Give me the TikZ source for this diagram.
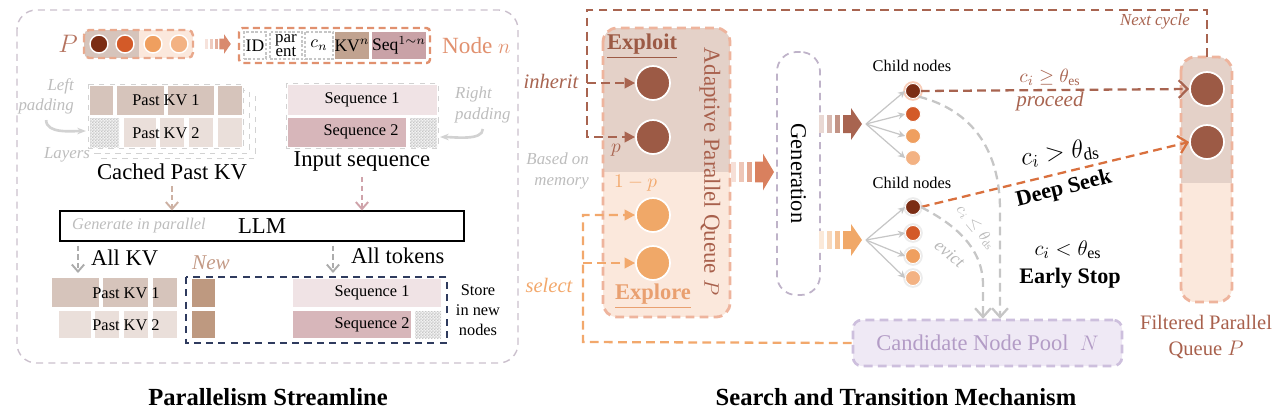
\documentclass[tikz,border=0pt]{standalone}
\usepackage{fontspec}
\setmainfont{Liberation Serif}
\usetikzlibrary{arrows.meta,patterns,calc}

\definecolor{kvdark}{HTML}{D6C4BB}
\definecolor{kvlight}{HTML}{EADFDA}
\definecolor{seqlight}{HTML}{F0E3E5}
\definecolor{seqdark}{HTML}{D7B6BA}
\definecolor{newkv}{HTML}{BE9980}
\definecolor{kvn}{HTML}{C1A390}
\definecolor{seqn}{HTML}{C9A2A7}
\definecolor{dotA}{HTML}{7B2D14}
\definecolor{dotB}{HTML}{D35A28}
\definecolor{dotC}{HTML}{EF9F5F}
\definecolor{dotD}{HTML}{F3B283}
\definecolor{qbrown}{HTML}{9C5A45}
\definecolor{qorange}{HTML}{F0A868}
\definecolor{exploitbg}{HTML}{E4D1C8}
\definecolor{explorebg}{HTML}{FBE8DC}
\definecolor{qborder}{HTML}{EEB49D}
\definecolor{qtxt}{HTML}{A8604C}
\definecolor{linebrown}{HTML}{A86450}
\definecolor{lineorange}{HTML}{F2A86C}
\definecolor{exploretxt}{HTML}{E9A070}
\definecolor{panelline}{HTML}{CBC0CD}
\definecolor{genline}{HTML}{BFB3C9}
\definecolor{poolfill}{HTML}{EFE9F5}
\definecolor{poolline}{HTML}{CDBFDD}
\definecolor{pooltext}{HTML}{B39CC6}
\definecolor{navy}{HTML}{2F3B5E}
\definecolor{nodeor}{HTML}{E1916F}
\definecolor{notegray}{HTML}{BDBDBD}
\definecolor{pbox}{HTML}{E9A98D}
\definecolor{ptxt}{HTML}{B5735F}
\definecolor{arrowor}{HTML}{D98A6E}
\definecolor{bigarrow}{HTML}{D9805E}
\definecolor{deepseek}{HTML}{D9703E}
\definecolor{tanline}{HTML}{CDB1A3}
\definecolor{pinkline}{HTML}{CFA3AA}
\definecolor{newtxt}{HTML}{C39A86}
\definecolor{glowor}{HTML}{F8CDB8}

\newlength{\pxu}\setlength{\pxu}{0.02cm}

\pgfdeclarepatternformonly{finechecker}{\pgfqpoint{0pt}{0pt}}{\pgfqpoint{1.6pt}{1.6pt}}{\pgfqpoint{1.6pt}{1.6pt}}{%
  \pgfpathrectangle{\pgfqpoint{0pt}{0pt}}{\pgfqpoint{0.8pt}{0.8pt}}%
  \pgfpathrectangle{\pgfqpoint{0.8pt}{0.8pt}}{\pgfqpoint{0.8pt}{0.8pt}}%
  \pgfusepath{fill}}

\tikzset{
  pics/stripearrow/.style={code={
    \fill[#1!25] (0,-9) rectangle (5,9);
    \fill[#1!45] (8,-9) rectangle (13,9);
    \fill[#1!70] (16,-9) rectangle (21,9);
    \fill[#1] (24,-9) -- (32,-9) -- (32,-16) -- (43,0) -- (32,16) -- (32,9) -- (24,9) -- cycle;
  }}
}

\begin{document}
\begin{tikzpicture}[x=0.02cm, y=-0.02cm,
  fs/.style 2 args={font=\fontsize{#1pt}{#2pt}\selectfont},
  note/.style={text=notegray, font=\itshape\fontsize{9.6pt}{11.5pt}\selectfont},
  kvtxt/.style={fs={9.3}{9.3}, inner sep=0pt},
  cell/.style={draw=gray!45, line width=0.6pt, dash pattern=on 1.5pt off 1pt, minimum height=27\pxu, inner sep=0pt, fs={10}{10}},
  checker/.style={fill=gray!10, postaction={pattern=finechecker, pattern color=gray!45}},
  pdot/.style={circle, draw=white, line width=0.8pt, minimum size=18\pxu, inner sep=0pt},
  qdot/.style={circle, draw=white, line width=1pt, minimum size=34\pxu, inner sep=0pt},
  cdot/.style={circle, draw=white, line width=0.5pt, minimum size=15\pxu, inner sep=0pt},
  halo/.style={preaction={draw=#1, line width=2.6pt}},
  fan/.style={draw=gray!45, line width=0.7pt, -{Stealth[length=4pt,width=4pt]}},
  tanarr/.style={draw=tanline, line width=1.1pt, dash pattern=on 3pt off 2pt, -{Straight Barb[length=4pt,width=7pt]}},
  grayarr/.style={draw=gray!65, line width=1.1pt, dash pattern=on 3pt off 2pt, -{Straight Barb[length=4pt,width=7pt]}},
  brownarr/.style={draw=linebrown, line width=1.3pt, dash pattern=on 5pt off 3pt, -{Triangle[length=6pt,width=6pt]}},
  orarr/.style={draw=lineorange, line width=1.3pt, dash pattern=on 5pt off 3pt, -{Triangle[length=6pt,width=6pt]}},
  barb/.style={-{Straight Barb[length=5pt,width=10pt]}},
  evarr/.style={draw=gray!45, line width=1.3pt, dash pattern=on 5pt off 3pt, -{Straight Barb[length=5pt,width=9pt]}},
]
\useasboundingbox (0,0) rectangle (1282,414);

% ---------------- Parallelism Streamline ----------------
\draw[panelline, line width=0.8pt, dash pattern=on 4pt off 3pt, rounded corners=11pt] (17,10) rectangle (518,363);

% parallel queue P and node n
\node[fs={14}{14}, text=ptxt] (plab) at (68,44) {$P$};
\begin{scope}
  \clip[rounded corners=3pt] (84,30) rectangle (193,58);
  \fill[kvdark] (84,30) rectangle (139,58);
  \fill[explorebg] (139,30) rectangle (193,58);
\end{scope}
\draw[pbox, line width=1.4pt, dash pattern=on 4pt off 2.5pt, rounded corners=3pt] (84,30) rectangle (193,58);
\foreach \x/\c [count=\i] in {99/dotA,125/dotB,153/dotC,179/dotD}
  \node[pdot, fill=\c] (p\i) at (\x,44) {};
\pic[scale=0.6] at (205,44) {stripearrow=arrowor};

\draw[nodeor, line width=1.4pt, dash pattern=on 4pt off 2.5pt, rounded corners=2pt] (239,28) rectangle (430,63);
\node[cell, minimum width=22\pxu] (idc) at (255,45.5) {ID};
\node[cell, minimum width=32\pxu, align=center, fs={9.6}{8.2}] (parc) at (286,45.5) {par\\ent};
\node[cell, minimum width=28\pxu] (cnc) at (319,45.5) {$c_n$};
\node[cell, draw=none, fill=kvn, minimum width=32\pxu] (kvc) at (352,45.5) {KV$^{n}$};
\node[cell, draw=none, fill=seqn, minimum width=54\pxu] (seqc) at (399,45.5) {Seq$^{1\sim n}$};
\node[fs={13.2}{13.2}, text=nodeor, anchor=west] (nlab) at (436,46) {Node $n$};

% cached past KV
\draw[gray!35, dashed, fill=white] (100,96) rectangle (255,158);
\draw[gray!35, dashed, fill=white] (94,90) rectangle (249,153);
\draw[gray!35, dashed, fill=white] (88,84) rectangle (243,148);
\foreach \a/\b in {90/113,117/164,168/214,218/242}
  \fill[kvdark] (\a,86) rectangle (\b,115);
\fill[checker] (90,118) rectangle (119,147);
\foreach \a/\b in {124/156,160/184,189/213,218/242}
  \fill[kvlight] (\a,118) rectangle (\b,147);
\node[kvtxt] (kv1) at (166,100.5) {Past KV 1};
\node[kvtxt] (kv2) at (166,133) {Past KV 2};
\node[note, anchor=east, align=right] (lpad) at (80,96) {Left\\padding};
\draw[gray!35, line width=1.5pt, -{Stealth[length=5pt]}] (lpad.south) .. controls +(0,14) and +(-14,0) .. (86,131);
\node[note] (layers) at (67,155) {Layers};
\node[fs={12.9}{12.9}] (cached) at (172,172) {Cached Past KV};

% input sequence
\draw[gray!35, dashed] (286,83) rectangle (438,148);
\fill[seqlight] (288,85) rectangle (437,115);
\fill[seqdark] (288,118) rectangle (406,147);
\fill[checker] (410,118) rectangle (437,147);
\node[kvtxt] (sq1) at (362,100) {Sequence 1};
\node[kvtxt] (sq2) at (361,132) {Sequence 2};
\node[note, anchor=west, align=left] (rpad) at (449,105) {Right\\padding};
\draw[gray!35, line width=1.5pt, -{Stealth[length=5pt]}] (rpad.south) .. controls +(0,12) and +(14,0) .. (440,137);
\node[fs={12.9}{12.9}] (inseq) at (362,161) {Input sequence};

% LLM
\node[draw, line width=0.6pt, minimum width=404\pxu, minimum height=30\pxu, inner sep=0pt, fs={12.9}{12.9}] (llm) at (262,226) {LLM};
\node[text=notegray, font=\itshape\fontsize{9.3pt}{9.3pt}\selectfont, anchor=west] (genpar) at (66,226) {Generate in parallel};
\draw[tanarr] (cached.south) -- (cached.south |- llm.north);
\draw[tanarr, draw=pinkline] (inseq.south) -- (inseq.south |- llm.north);

\coordinate (kvtop) at (78,273);
\coordinate (tktop) at (333,273);
\draw[grayarr] ($(kvtop |- llm.south)+(0,4)$) -- (kvtop);
\draw[grayarr] ($(tktop |- llm.south)+(0,4)$) -- (tktop);
\node[fs={12.8}{12.8}, anchor=west] (allkv) at (85,258) {All KV};
\node[fs={12.8}{12.8}, anchor=west] (alltok) at (345,256) {All tokens};

% new nodes
\foreach \a/\b in {52/99,103/148,153/177}
  \fill[kvdark] (\a,278) rectangle (\b,307);
\foreach \a/\b in {59/91,95/119,124/148,153/177}
  \fill[kvlight] (\a,311) rectangle (\b,338);
\node[kvtxt] (nkv1) at (126,293) {Past KV 1};
\node[kvtxt] (nkv2) at (126,325) {Past KV 2};
\node[fs={12}{12}, text=newtxt, anchor=west] (newlab) at (186,263) {\textit{New}};
\draw[navy, line width=1.1pt, dash pattern=on 4pt off 3pt] (186,277) rectangle (447,343);
\fill[newkv] (192,279) rectangle (215,307);
\fill[newkv] (192,311) rectangle (215,338);
\fill[seqlight] (293,279) rectangle (441,307);
\fill[seqdark] (293,311) rectangle (411,338);
\fill[checker] (415,311) rectangle (441,338);
\node[kvtxt] (nsq1) at (372,293) {Sequence 1};
\node[kvtxt] (nsq2) at (372,325) {Sequence 2};
\node[fs={9.3}{11.5}, align=center] (store) at (478,310) {Store\\in new\\nodes};

\node[fs={14}{14}] (title1) at (268,397) {\textbf{Parallelism Streamline}};

% ---------------- Search and Transition Mechanism ----------------
% adaptive parallel queue
\begin{scope}
  \clip[rounded corners=8pt] (603,28) rectangle (730,317);
  \fill[exploitbg] (603,28) rectangle (730,172);
  \fill[explorebg] (603,172) rectangle (730,317);
\end{scope}
\draw[qborder, line width=1.6pt, dash pattern=on 5pt off 3pt, rounded corners=8pt] (603,28) rectangle (730,317);
\node[fs={12.8}{12.8}, text=qbrown] (exploit) at (642,46) {\textbf{\underline{Exploit}}};
\node[qdot, fill=qbrown] (ex1) at (653,83) {};
\node[qdot, fill=qbrown] (ex2) at (653,137) {};
\node[qdot, fill=qorange] (er1) at (653,215) {};
\node[qdot, fill=qorange] (er2) at (653,263) {};
\node[fs={12.8}{12.8}, text=exploretxt] (explore) at (653,296) {\textbf{\underline{Explore}}};
\node[fs={11}{11}, text=linebrown] (plbl) at (616,150) {$p$};
\node[fs={11}{11}, text=lineorange, anchor=west] (qlbl) at (608,183) {$1-p$};
\node[fs={13.1}{13.1}, text=qtxt, rotate=-90] (apq) at (710,172) {Adaptive Parallel Queue $P$};
\node[note, align=right, anchor=east] (mem) at (595,171) {Based on\\memory};
\node[fs={11.7}{11.7}, text=linebrown, anchor=east] (inh) at (585,81) {\textit{inherit}};
\node[fs={11.7}{11.7}, text=lineorange, anchor=east] (sel) at (579,285) {\textit{select}};
\pic[yscale=1.15] at (731,172) {stripearrow=bigarrow};

% generation
\node[draw=genline, line width=1pt, dash pattern=on 4pt off 3pt, rounded corners=11pt, minimum width=43\pxu, minimum height=243\pxu, inner sep=0pt] (gen) at (798.5,173.5) {};
\node[fs={12.8}{12.8}, rotate=-90] (gentxt) at (gen.center) {Generation};
\pic at (819,124) {stripearrow=linebrown};
\pic at (819,240) {stripearrow=qorange};

% child nodes
\coordinate (hub1) at (866,124);
\coordinate (hub2) at (866,240);
\node[cdot, fill=dotA, halo=glowor] (c11) at (913,91) {};
\foreach \y/\c [count=\i from 2] in {114/dotB,136/dotC,158/dotD}
  \node[cdot, fill=\c] (c1\i) at (913,\y) {};
\foreach \y/\c [count=\i] in {207/dotA,233/dotB,256/dotC,278/dotD}
  \node[cdot, fill=\c, halo=gray!15] (c2\i) at (913,\y) {};
\foreach \i in {1,...,4} {
  \draw[fan] (hub1) -- (c1\i.west);
  \draw[fan] (hub2) -- (c2\i.west);
}
\node[fs={9.3}{9.3}] (ch1) at (912,66) {Child nodes};
\node[fs={9.3}{9.3}] (ch2) at (912,183) {Child nodes};

% filtered parallel queue
\begin{scope}
  \clip[rounded corners=8pt] (1181,57) rectangle (1232,302);
  \fill[exploitbg] (1181,57) rectangle (1232,183);
  \fill[explorebg] (1181,183) rectangle (1232,302);
\end{scope}
\draw[qborder, line width=1.6pt, dash pattern=on 5pt off 3pt, rounded corners=8pt] (1181,57) rectangle (1232,302);
\coordinate (fqtop) at (1207,57);
\node[qdot, fill=qbrown] (f1) at (1207,89) {};
\node[qdot, fill=qbrown] (f2) at (1207,142) {};
\node[fs={11.7}{14.7}, text=qtxt, align=center] (flab) at (1206,337) {Filtered Parallel\\Queue $P$};

% candidate node pool
\node[draw=poolline, fill=poolfill, line width=1.5pt, dash pattern=on 5pt off 3pt, rounded corners=5pt, minimum width=269\pxu, minimum height=46\pxu, fs={12.8}{12.8}, text=pooltext] (pool) at (987.5,343) {Candidate Node Pool\enspace$N$};

% next cycle loop
\coordinate (nc1) at (1207,10);
\coordinate (nc2) at (587,10);
\draw[brownarr] (fqtop) -- (nc1) -- (nc2) -- (ex2.west -| nc2) -- (ex2.west);
\draw[brownarr] (ex1.west -| nc2) -- (ex1.west);
\node[note, text=linebrown, anchor=east] (ncyc) at (1196,21) {Next cycle};

% select from pool
\coordinate (sl) at (583,342);
\draw[orarr] (pool.west) -- (sl) -- (er1.west -| sl) -- (er1.west);
\draw[orarr] (er2.west -| sl) -- (er2.west);

% proceed
\draw[brownarr, barb] (c11.east) -- (f1.west);
\node[fs={11}{11}, text=linebrown] (ges) at (1050,77) {$c_i \geq \theta_{\mathrm{es}}$};
\node[fs={12}{12}, text=linebrown] (proc) at (1050,101) {\textit{proceed}};

% deep seek
\draw[draw=deepseek, line width=1.3pt, dash pattern=on 5pt off 3pt, barb] (c21.east) -- (f2.west);
\node[fs={14}{14}, rotate=8] (gds) at (1060,153) {$c_i > \theta_{\mathrm{ds}}$};
\node[fs={12.6}{12.6}, rotate=14] (dseek) at (1064,189) {\textbf{Deep Seek}};

% early stop and evict
\coordinate (es) at (1000,210);
\coordinate (ev) at (983,285);
\draw[evarr] (c11.south east) .. controls (972,110) and (1000,150) .. (es) -- (es |- pool.north);
\draw[evarr] (c21.east) .. controls (950,222) and (983,245) .. (ev) -- (ev |- pool.north);
\node[fs={8.6}{8.6}, text=gray!55, rotate=-50, inner sep=0pt] (lds) at (976,227) {$c_i \leq \theta_{\mathrm{ds}}$};
\node[fs={10}{10}, text=gray!55, rotate=-40, inner sep=0pt] (evict) at (950,254) {\textit{evict}};
\node[fs={13}{13}] (les) at (1068,250) {$c_i < \theta_{\mathrm{es}}$};
\node[fs={12.6}{12.6}] (estop) at (1070,278) {\textbf{Early Stop}};

\node[fs={14}{14}] (title2) at (896,397) {\textbf{Search and Transition Mechanism}};
\end{tikzpicture}
\end{document}
